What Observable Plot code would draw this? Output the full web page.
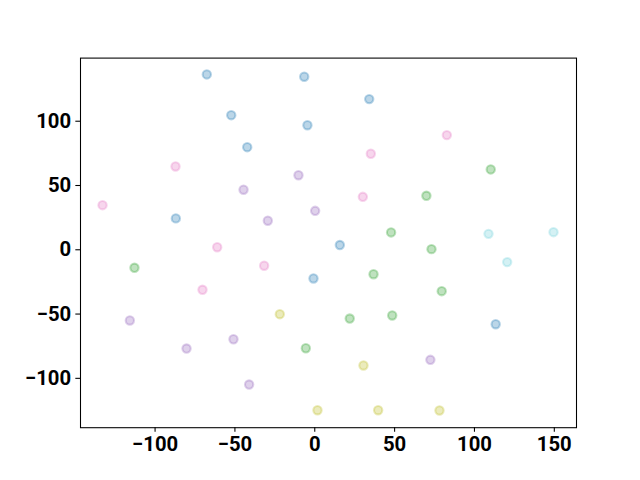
<!DOCTYPE html>
<html>
<head>
<meta charset="utf-8">
<script src="https://cdn.jsdelivr.net/npm/d3@7"></script>
<script src="https://cdn.jsdelivr.net/npm/@observablehq/plot@0.6"></script>
<style>
  html, body { margin: 0; padding: 0; background: #fff; }
  svg text { font-family: Roboto, sans-serif; font-weight: bold; font-size: 20.3px; }
</style>
</head>
<body>
<div id="chart"></div>
<script>
// Categories and colours
const groups = ["group 1", "group 2", "group 3", "group 4", "group 5", "group 6"];
const groupColors = ["#1f77b4", "#e377c2", "#9467bd", "#2ca02c", "#6fcfdc", "#bcbd22"];

// Series values (x, y)
const g1X = [-67.6, -6.6, 34.1, -52.3, -4.6, -42.3, -87.0, 15.7, -0.8, 113.3];
const g1Y = [136.4, 134.6, 117.2, 104.7, 96.9, 79.8, 24.4, 3.7, -22.3, -57.9];

const g2X = [-87.2, 82.7, 35.1, 30.1, -132.9, -61.1, -31.7, -70.3];
const g2Y = [64.8, 89.2, 74.7, 41.2, 34.7, 2.0, -12.4, -31.1];

const g3X = [-10.2, -44.6, 0.25, -29.4, -115.8, -50.9, -80.3, 72.4, -41.1];
const g3Y = [58.0, 46.7, 30.3, 22.6, -55.0, -69.6, -76.8, -85.6, -104.8];

const g4X = [110.2, 69.9, 47.8, 73.1, -112.9, 36.8, 79.5, 48.5, 21.9, -5.6];
const g4Y = [62.5, 42.0, 13.5, 0.5, -14.0, -19.0, -32.2, -51.1, -53.5, -76.6];

const g5X = [108.8, 149.5, 120.5];
const g5Y = [12.4, 13.7, -9.6];

const g6X = [-21.9, 30.5, 1.7, 39.7, 78.1];
const g6Y = [-50.1, -90.0, -124.8, -124.8, -125.0];

// Tick labels
const xTicks = [-100, -50, 0, 50, 100, 150];
const yTicks = [-100, -50, 0, 50, 100];

const seriesX = [g1X, g2X, g3X, g4X, g5X, g6X];
const seriesY = [g1Y, g2Y, g3Y, g4Y, g5Y, g6Y];

const points = [];
groups.forEach((g, i) => {
  seriesX[i].forEach((x, j) => points.push({group: g, x, y: seriesY[i][j]}));
});

const fmt = d => d < 0 ? "\u2212" + Math.abs(d) : String(d);

const chart = Plot.plot({
  width: 640,
  height: 480,
  marginLeft: 80,
  marginRight: 64,
  marginTop: 57.6,
  marginBottom: 52.8,
  style: {
    fontFamily: "Roboto, sans-serif",
    fontWeight: "bold",
    fontSize: "20.3px",
    background: "#fff",
    color: "#000"
  },
  x: {domain: [-146.7, 163.9]},
  y: {domain: [-138.4, 149.1]},
  color: {domain: groups, range: groupColors},
  marks: [
    Plot.dot(points, {
      x: "x", y: "y",
      fill: "group", stroke: "group",
      r: 4.17, strokeWidth: 2.08,
      fillOpacity: 0.3, strokeOpacity: 0.3
    }),
    Plot.frame({stroke: "#000", strokeWidth: 1.07}),
    Plot.axisX({ticks: xTicks, tickFormat: fmt, tickSize: 4.67, tickPadding: 4.67, label: null, strokeWidth: 1.07, fontSize: 20.3}),
    Plot.axisY({ticks: yTicks, tickFormat: fmt, tickSize: 4.67, tickPadding: 4.67, label: null, strokeWidth: 1.07, fontSize: 20.3})
  ]
});
document.getElementById("chart").appendChild(chart);
</script>
</body>
</html>
